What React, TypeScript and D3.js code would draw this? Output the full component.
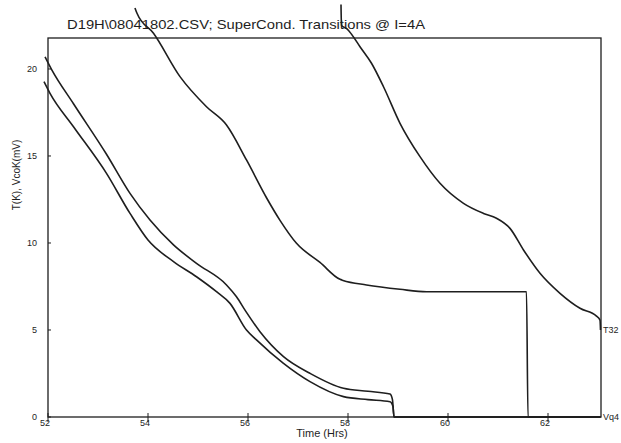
// Superconducting transition traces: temperature / coil voltage vs time.
import { useEffect, useRef } from "react";
import * as d3 from "d3";

const title = "D19H\\08041802.CSV; SuperCond. Transitions @ I=4A";
const xTicks = [52, 54, 56, 58, 60, 62];
const yTicks = [0, 5, 10, 15, 20];

// [hours, value]
const traceUpper: [number, number][] = [
  [51.94, 20.7], [52.07, 19.98], [52.51, 18.0], [53.17, 15.1], [53.64, 12.85],
  [54.04, 11.32], [54.51, 9.89], [54.97, 8.83], [55.57, 7.59], [55.77, 6.91],
  [55.95, 6.1], [56.24, 4.9], [56.71, 3.47], [57.24, 2.51], [57.91, 1.65],
  [58.4, 1.48], [58.84, 1.32], [58.89, 0.98], [58.92, 0], [63.05, 0],
];
const traceLower: [number, number][] = [
  [51.92, 19.27], [52.04, 18.6], [52.51, 16.68], [53.17, 14.0], [53.64, 11.7],
  [54.0, 10.17], [54.51, 8.93], [54.97, 8.06], [55.37, 7.2], [55.64, 6.53],
  [55.97, 5.0], [56.17, 4.43], [56.71, 3.08], [57.24, 2.03], [57.91, 1.17],
  [58.4, 1.0], [58.84, 0.88], [58.9, 0.6], [58.92, 0], [63.05, 0],
];
const traceMiddle: [number, number][] = [
  [53.74, 23.5], [53.78, 23.2], [54.11, 22.05], [54.64, 19.56], [55.17, 17.83],
  [55.57, 16.78], [55.97, 14.77], [56.37, 12.6], [56.64, 11.3], [56.97, 9.98],
  [57.44, 8.88], [57.84, 7.91], [57.9, 7.85], [58.37, 7.59], [59.04, 7.34],
  [59.57, 7.2], [61.57, 7.2], [61.6, 0], [63.05, 0],
];
const traceT32: [number, number][] = [
  [57.86, 23.7], [57.87, 22.5], [57.98, 22.3], [58.07, 22.0], [58.24, 21.28],
  [58.47, 20.33], [58.71, 18.98], [59.04, 16.88], [59.44, 14.96], [59.84, 13.43],
  [60.31, 12.28], [60.71, 11.7], [60.97, 11.42], [61.24, 10.84], [61.51, 9.6],
  [61.84, 8.26], [62.24, 7.11], [62.64, 6.25], [62.97, 5.8], [63.04, 5.57],
  [63.05, 5.0],
];

export default function App() {
  const svgRef = useRef<SVGSVGElement>(null);

  useEffect(() => {
    const svg = d3.select(svgRef.current);
    svg.selectAll("*").remove();

    const left = 48, right = 601, top = 38, bottom = 417;
    const x = d3.scaleLinear().domain([52, 63.06]).range([left, right]);
    const y = d3.scaleLinear().domain([0, 21.78]).range([bottom, top]);
    const ink = "#1e1e1e";
    const font = "'Liberation Sans', Arial, sans-serif";

    svg.append("rect").attr("width", 621).attr("height", 443).attr("fill", "#fff");

    // frame
    svg.append("rect")
      .attr("x", left).attr("y", top)
      .attr("width", right - left).attr("height", bottom - top)
      .attr("fill", "none").attr("stroke", ink).attr("stroke-width", 1.3);

    // title
    svg.append("text")
      .attr("x", 67).attr("y", 29)
      .attr("font-family", font).attr("font-size", 13)
      .attr("textLength", 358).attr("lengthAdjust", "spacingAndGlyphs")
      .attr("fill", ink)
      .text(title);

    // x ticks
    const xg = svg.append("g");
    xg.selectAll("line").data(xTicks).enter().append("line")
      .attr("x1", d => x(d)).attr("x2", d => x(d))
      .attr("y1", bottom - 4).attr("y2", bottom + 5)
      .attr("stroke", ink).attr("stroke-width", 1);
    xg.selectAll("text").data(xTicks).enter().append("text")
      .attr("x", d => x(d) - 3).attr("y", bottom + 9)
      .attr("text-anchor", "middle")
      .attr("font-family", font).attr("font-size", 9).attr("fill", ink)
      .text(d => d);

    // y ticks
    const yg = svg.append("g");
    yg.selectAll("line").data(yTicks).enter().append("line")
      .attr("x1", left).attr("x2", left + 3)
      .attr("y1", d => y(d)).attr("y2", d => y(d))
      .attr("stroke", ink).attr("stroke-width", 1);
    yg.selectAll("text").data(yTicks).enter().append("text")
      .attr("x", 37).attr("y", d => y(d) + 3)
      .attr("text-anchor", "end")
      .attr("font-family", font).attr("font-size", 9).attr("fill", ink)
      .text(d => d);

    // axis titles
    svg.append("text")
      .attr("x", 322).attr("y", 437)
      .attr("text-anchor", "middle")
      .attr("font-family", font).attr("font-size", 11).attr("fill", ink)
      .text("Time (Hrs)");
    svg.append("text")
      .attr("transform", "translate(20,175) rotate(-90)")
      .attr("text-anchor", "middle")
      .attr("font-family", font).attr("font-size", 10).attr("fill", ink)
      .text("T(K), VcoK(mV)");

    // traces
    const line = d3.line<[number, number]>()
      .x(d => x(d[0]))
      .y(d => y(d[1]))
      .curve(d3.curveMonotoneX);
    [traceUpper, traceLower, traceMiddle, traceT32].forEach(s => {
      svg.append("path")
        .datum(s)
        .attr("d", line)
        .attr("fill", "none")
        .attr("stroke", ink)
        .attr("stroke-width", 1.6)
        .attr("stroke-linejoin", "round");
    });

    // trace labels
    svg.append("text")
      .attr("x", right + 2).attr("y", y(5) + 3)
      .attr("font-family", font).attr("font-size", 9).attr("fill", ink)
      .text("T32");
    svg.append("text")
      .attr("x", right + 2).attr("y", y(0) + 3)
      .attr("font-family", font).attr("font-size", 9).attr("fill", ink)
      .text("Vq4");
  }, []);

  return (
    <svg
      ref={svgRef}
      width={621}
      height={443}
      style={{ position: "absolute", left: 0, top: 0, display: "block" }}
    />
  );
}
